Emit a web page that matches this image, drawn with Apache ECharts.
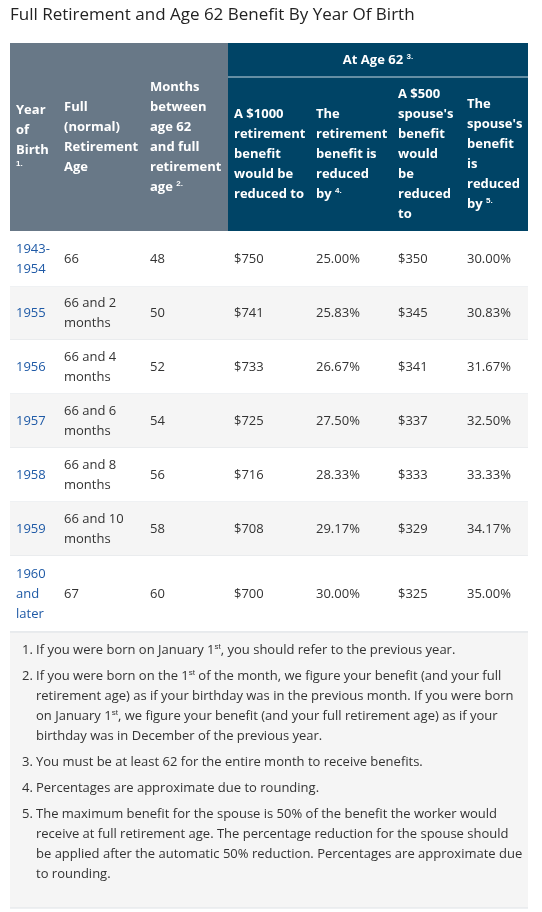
<!DOCTYPE html>
<html><head><meta charset="utf-8">
<script src="https://cdn.jsdelivr.net/npm/echarts@6/dist/echarts.min.js"></script>
<style>html,body{margin:0;padding:0;background:#fff}#c{width:542px;height:912px}</style>
</head><body><div id="c"></div>
<script>
const title = "Full Retirement and Age 62 Benefit By Year Of Birth";
const groupHeader = "At Age 62 {s|3.}";
const colHeaders = [
  "Year\nof\nBirth\n{s|1.}",
  "Full\n(normal)\nRetirement\nAge",
  "Months\nbetween\nage 62\nand full\nretirement\nage {s|2.}",
  "A $1000\nretirement\nbenefit\nwould be\nreduced to",
  "The\nretirement\nbenefit is\nreduced\nby {s|4.}",
  "A $500\nspouse's\nbenefit\nwould\nbe\nreduced\nto",
  "The\nspouse's\nbenefit\nis\nreduced\nby {s|5.}"
];
const years = ["1943-\n1954","1955","1956","1957","1958","1959","1960\nand\nlater"];
const fullAge = ["66","66 and 2\nmonths","66 and 4\nmonths","66 and 6\nmonths","66 and 8\nmonths","66 and 10\nmonths","67"];
const monthsBetween = ["48","50","52","54","56","58","60"];
const benefit1000 = ["$750","$741","$733","$725","$716","$708","$700"];
const benefitReduction = ["25.00%","25.83%","26.67%","27.50%","28.33%","29.17%","30.00%"];
const spouse500 = ["$350","$345","$341","$337","$333","$329","$325"];
const spouseReduction = ["30.00%","30.83%","31.67%","32.50%","33.33%","34.17%","35.00%"];
const footnotes = [
  ["If you were born on January 1{s|st}, you should refer to the previous year."],
  ["If you were born on the 1{s|st} of the month, we figure your benefit (and your full","retirement age) as if your birthday was in the previous month. If you were born","on January 1{s|st}, we figure your benefit (and your full retirement age) as if your","birthday was in December of the previous year."],
  ["You must be at least 62 for the entire month to receive benefits."],
  ["Percentages are approximate due to rounding."],
  ["The maximum benefit for the spouse is 50% of the benefit the worker would","receive at full retirement age. The percentage reduction for the spouse should","be applied after the automatic 50% reduction. Percentages are approximate due","to rounding."]
];

const FONT = '"Open Sans","Noto Sans",sans-serif';
const colX = [10,58,144,228,310,392,461,528];
const rowY = [231,287,340,394,448,502,556,632];
const g = [];
g.push({type:'text',left:10,top:7,style:{text:title,font:'17px '+FONT,fill:'#222'}});
g.push({type:'rect',shape:{x:10,y:43,width:218,height:188},style:{fill:'#687887'}});
g.push({type:'rect',shape:{x:228,y:43,width:300,height:188},style:{fill:'#004466'}});
g.push({type:'line',shape:{x1:228,y1:77,x2:528,y2:77},style:{stroke:'#c9d9e2',lineWidth:1}});
const sup = {s:{fontSize:8,fontWeight:'bold',fill:'#fff',padding:[0,0,7,0]}};
g.push({type:'text',x:378,y:60,style:{text:groupHeader,font:'bold 13px '+FONT,fill:'#fff',align:'center',verticalAlign:'middle',rich:sup}});
colHeaders.forEach((h,i)=>{
  const cy = i<3 ? 137 : 154;
  g.push({type:'text',x:colX[i]+6,y:cy,style:{text:h,font:'bold 13px '+FONT,fill:'#fff',lineHeight:20,verticalAlign:'middle',rich:{s:{fontSize:8,fontWeight:'bold',fill:'#fff',lineHeight:14,padding:[0,0,7,0]}}}});
});
const cols = [years,fullAge,monthsBetween,benefit1000,benefitReduction,spouse500,spouseReduction];
for(let r=0;r<years.length;r++){
  const y0=rowY[r], y1=rowY[r+1];
  g.push({type:'rect',shape:{x:10,y:y0,width:518,height:y1-y0},style:{fill:r%2?'#f5f5f5':'#fff'}});
  g.push({type:'line',shape:{x1:10,y1:y1,x2:528,y2:y1},style:{stroke:'#dee2e6',lineWidth:1}});
  cols.forEach((c,i)=>{
    g.push({type:'text',x:colX[i]+6,y:(y0+y1)/2,style:{text:c[r],font:'13px '+FONT,fill:i===0?'#1f5aa6':'#333',lineHeight:20,verticalAlign:'middle'}});
  });
}
g.push({type:'rect',shape:{x:10,y:632,width:518,height:276},style:{fill:'#f5f5f5'}});
g.push({type:'line',shape:{x1:10,y1:632,x2:528,y2:632},style:{stroke:'#dee2e6',lineWidth:1}});
g.push({type:'line',shape:{x1:10,y1:908,x2:528,y2:908},style:{stroke:'#dee2e6',lineWidth:1}});
let fy=650;
footnotes.forEach((lines,i)=>{
  g.push({type:'text',x:22,y:fy,style:{text:(i+1)+'.',font:'13px '+FONT,fill:'#333',verticalAlign:'middle'}});
  lines.forEach((ln,j)=>{
    g.push({type:'text',x:36,y:fy+j*20,style:{text:ln,font:'13px '+FONT,fill:'#333',verticalAlign:'middle',rich:{s:{fontSize:8,fill:'#333',padding:[0,0,7,0]}}}});
  });
  fy += lines.length*20+6;
});
const chart = echarts.init(document.getElementById('c'));
chart.setOption({graphic:{elements:g}});
</script></body></html>
